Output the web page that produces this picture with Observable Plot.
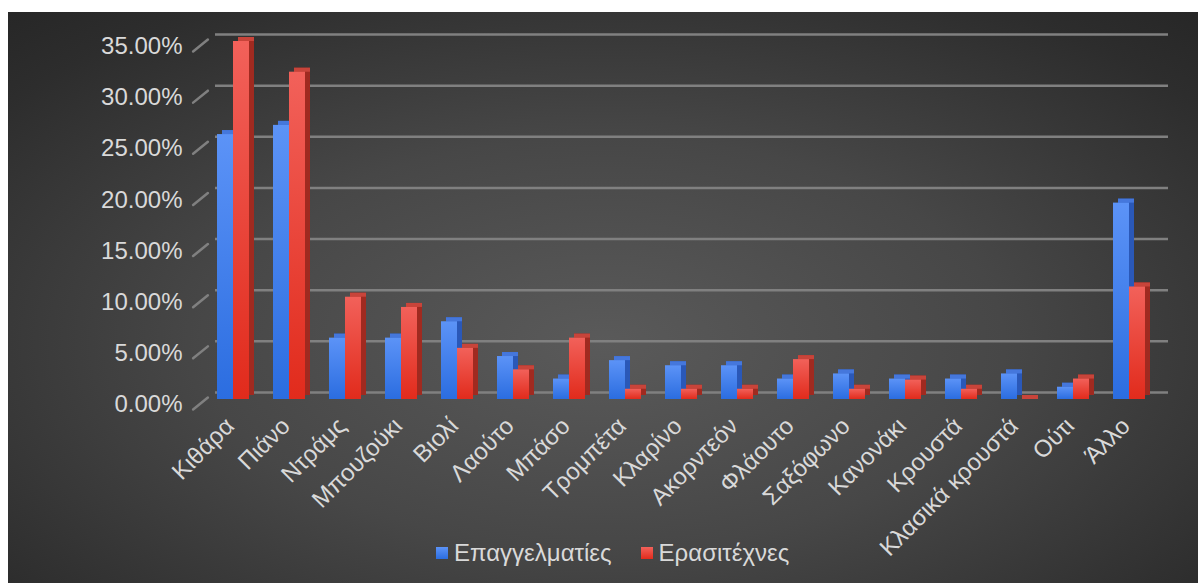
<!DOCTYPE html>
<html>
<head>
<meta charset="utf-8">
<script src="https://cdn.jsdelivr.net/npm/d3@7"></script>
<script src="https://cdn.jsdelivr.net/npm/@observablehq/plot@0.6"></script>
<style>
  html, body { margin: 0; padding: 0; background: #ffffff; }
  #chart {
    position: absolute; left: 8px; top: 12px; width: 1190px; height: 571px;
    background: radial-gradient(ellipse 75% 80% at 50% 58%, #5a5a5a 0%, #474747 45%, #2d2d2d 85%, #262626 100%);
    font-family: "Liberation Sans", Arial, sans-serif;
    overflow: hidden;
  }
  #legend {
    position: absolute; left: 428px; top: 527px;
    display: flex; align-items: center; gap: 29px;
    color: #d9d9d9; font-size: 24px;
  }
  #legend .item { display: flex; align-items: center; }
  #legend .sw { width: 12px; height: 12px; margin-right: 6px; }
</style>
</head>
<body>
<div id="chart"><div id="legend"></div></div>
<script>
const categories = ["Κιθάρα","Πιάνο","Ντράμς","Μπουζούκι","Βιολί","Λαούτο","Μπάσο","Τρομπέτα","Κλαρίνο","Ακορντεόν","Φλάουτο","Σαξόφωνο","Κανονάκι","Κρουστά","Κλασικά κρουστά","Ούτι","Άλλο"];
const seriesNames = ["Επαγγελματίες", "Ερασιτέχνες"];
const professionals = [0.259, 0.268, 0.060, 0.060, 0.076, 0.042, 0.020, 0.038, 0.033, 0.033, 0.020, 0.025, 0.020, 0.020, 0.025, 0.012, 0.192];
const amateurs      = [0.350, 0.320, 0.100, 0.090, 0.050, 0.029, 0.060, 0.010, 0.010, 0.010, 0.039, 0.010, 0.019, 0.010, 0.000, 0.020, 0.110];
const yTicks = [0, 0.05, 0.10, 0.15, 0.20, 0.25, 0.30, 0.35];

const pro = categories.map((c, i) => ({cat: c, value: professionals[i]}));
const ama = categories.map((c, i) => ({cat: c, value: amateurs[i]}));

const line = {draw(ctx, l) { ctx.moveTo(0, 0); ctx.lineTo(0, -l); }};
const textColor = "#d9d9d9";
const font = "'Liberation Sans', Arial, sans-serif";

function bar3d(data, side, front, topC, sideC) {
  const inset = side === "left" ? {insetRight: 16} : {insetLeft: 16};
  return [
    Plot.barY(data, {x: "cat", y: "value", fill: sideC, dx: 5, dy: -4, ...inset}),
    Plot.barY(data, {x: "cat", y1: "value", y2: "value", fill: topC, dx: 5, insetTop: -4, ...inset}),
    Plot.barY(data, {x: "cat", y: "value", fill: front, ...inset})
  ];
}

const chart = Plot.plot({
  width: 1190,
  height: 571,
  marginLeft: 185,
  marginRight: 29,
  marginTop: 29,
  marginBottom: 184,
  style: {background: "transparent", color: textColor, fontFamily: font},
  x: {domain: categories, padding: 0.42857, axis: null},
  y: {domain: [0, 0.35], axis: null},
  marks: [
    Plot.ruleY(yTicks, {y: d => d, stroke: "#808080", strokeWidth: 2.5, dy: -7, insetLeft: 22, insetRight: 1}),
    Plot.vector(yTicks, {y: d => d, frameAnchor: "left", dx: 7, dy: 4, length: 19, rotate: 51, shape: line, stroke: "#808080", strokeWidth: 2.5}),
    Plot.text(yTicks, {y: d => d, text: d => d3.format(".2%")(d), frameAnchor: "left", textAnchor: "end", dx: -11, dy: 5, fontSize: 24, fill: textColor}),
    ...bar3d(pro, "left", "url(#gBlue)", "#4577dc", "#2a58b8"),
    ...bar3d(ama, "right", "url(#gRed)", "#c8443a", "#a02a20"),
    Plot.text(categories, {x: d => d, text: d => d, frameAnchor: "bottom", rotate: -45, textAnchor: "end", lineAnchor: "bottom", dx: 2, dy: 28, fontSize: 24, fill: textColor})
  ]
});

d3.select(chart).insert("defs", ":first-child").html(`
  <linearGradient id="gBlue" x1="0" y1="0" x2="0" y2="1">
    <stop offset="0" stop-color="#5c93f7"/>
    <stop offset="1" stop-color="#2b6de0"/>
  </linearGradient>
  <linearGradient id="gRed" x1="0" y1="0" x2="0" y2="1">
    <stop offset="0" stop-color="#f2615a"/>
    <stop offset="1" stop-color="#e12b1c"/>
  </linearGradient>`);

chart.style.position = "absolute";
chart.style.left = "0px";
chart.style.top = "0px";
document.getElementById("chart").prepend(chart);

const legend = document.getElementById("legend");
const swatchColors = ["linear-gradient(#5c93f7, #2b6de0)", "linear-gradient(#f2615a, #e12b1c)"];
seriesNames.forEach((name, i) => {
  const item = document.createElement("div");
  item.className = "item";
  const sw = document.createElement("div");
  sw.className = "sw";
  sw.style.background = swatchColors[i];
  const t = document.createElement("span");
  t.textContent = name;
  item.appendChild(sw);
  item.appendChild(t);
  legend.appendChild(item);
});
</script>
</body>
</html>
